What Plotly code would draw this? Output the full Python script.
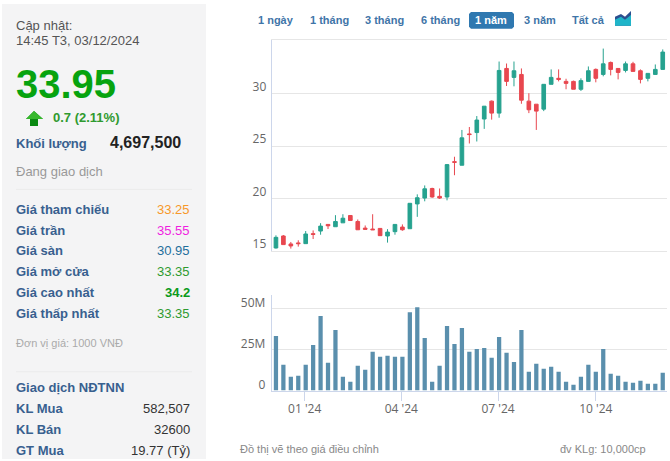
import pandas as pd
import plotly.graph_objects as go

W, H = 670, 461

# weekly bars, dated on the Tuesday of each week
dates = pd.date_range("2023-12-05", "2024-12-03", freq="7D")
opens = [15.31, 16.45, 15.69, 15.79, 15.72, 16.67, 16.92, 17.55, 17.33, 17.70, 18.40, 17.83, 17.20, 17.11,
         17.17, 16.45, 16.86, 17.30, 17.14, 19.50, 20.06, 20.97, 20.22, 20.16, 23.52, 23.18, 26.16, 26.29,
         27.58, 29.28, 28.14, 32.39, 31.54, 31.82, 29.28, 28.99, 28.52, 30.88, 31.45, 31.16, 31.16, 30.41,
         31.16, 32.30, 31.82, 32.96, 32.39, 32.20, 32.83, 32.17, 31.45, 31.82, 32.30]
highs = [16.51, 16.54, 15.88, 16.04, 16.92, 16.98, 17.67, 17.55, 18.43, 18.52, 18.43, 18.02, 17.45, 18.52,
         17.17, 17.10, 17.55, 17.55, 19.56, 20.41, 21.26, 21.04, 20.97, 23.30, 23.99, 26.54, 26.82, 27.86,
         28.80, 29.34, 33.05, 32.86, 33.05, 32.39, 30.03, 28.99, 30.88, 32.30, 32.30, 31.41, 31.23, 31.45,
         32.58, 32.39, 34.28, 33.05, 32.39, 33.05, 33.02, 32.30, 31.92, 32.77, 34.20]
lows = [15.25, 15.63, 15.25, 15.44, 15.72, 16.16, 16.57, 17.11, 17.33, 17.70, 17.89, 17.04, 17.08, 17.04,
        16.48, 15.82, 16.57, 16.95, 17.14, 18.27, 19.75, 20.09, 19.97, 19.84, 22.23, 23.18, 25.25, 25.44,
        26.64, 27.52, 27.70, 30.72, 30.69, 29.03, 28.14, 26.54, 28.33, 30.88, 31.16, 30.41, 30.41, 30.25,
        31.16, 31.07, 31.64, 31.73, 31.35, 32.01, 32.11, 30.97, 31.16, 31.82, 32.30]
closes = [16.32, 15.63, 15.50, 15.72, 16.64, 16.60, 17.39, 17.42, 17.83, 18.14, 17.92, 17.04, 17.08, 17.04,
          16.48, 16.82, 17.55, 17.04, 19.56, 20.09, 20.94, 20.16, 20.06, 23.24, 23.46, 25.79, 26.10, 27.48,
          28.80, 28.14, 32.20, 31.16, 32.17, 29.37, 28.46, 28.33, 30.88, 31.54, 31.35, 30.97, 30.41, 31.23,
          32.17, 31.45, 32.83, 32.30, 32.01, 32.83, 32.11, 31.35, 31.92, 32.30, 33.95]
volumes = [33.3, 15.7, 8.5, 9.0, 15.7, 27.8, 45.4, 16.9, 36.9, 8.5, 5.4, 15.1, 12.7, 23.6, 20.6, 21.2, 20.6, 20.6,
           47.8, 50.8, 32.0, 5.4, 15.1, 39.3, 28.4, 38.1, 23.6, 25.4, 26.0, 20.0, 32.7, 23.0, 17.5, 36.9, 11.5, 16.3,
           13.3, 14.5, 11.5, 5.4, 3.6, 8.5, 15.7, 11.5, 25.4, 10.3, 9.0, 5.4, 4.8, 6.0, 4.2, 4.2, 10.9]

price_ticks = [15, 20, 25, 30]
volume_ticks = [0, 25, 50]
volume_labels = ["0", "25M", "50M"]

price_labels = ["Giá tham chiếu", "Giá trần", "Giá sàn", "Giá mở cửa", "Giá cao nhất", "Giá thấp nhất"]
price_values = ["33.25", "35.55", "30.95", "33.35", "34.2", "33.35"]
price_colors = ["#f7982a", "#f01ee0", "#1f6f9c", "#2f9a2f", "#0b9a1b", "#2f9a2f"]
foreign_labels = ["KL Mua", "KL Bán", "GT Mua"]
foreign_values = ["582,507", "32600", "19.77 (Tỷ)"]
range_labels = ["1 ngày", "1 tháng", "3 tháng", "6 tháng", "1 năm", "3 năm", "Tất cả"]
range_centers = [276, 329, 384, 440, 491, 540, 588]

BLUE = "#38608f"
NAV = "#3f75a8"
GREEN = "#26a28f"
RED = "#e8474f"
FONT = "Liberation Sans, Arial, sans-serif"
TICK_FONT = "Open Sans, sans-serif"


def px_x(x):
    return x / W


def px_y(y):
    return 1 - y / H


def text(x, y, s, size=13, color="#444", anchor="left", bold=False):
    if bold:
        s = "<b>" + s + "</b>"
    return dict(xref="paper", yref="paper", x=px_x(x), y=px_y(y), text=s, showarrow=False,
                xanchor=anchor, yanchor="middle", borderpad=0, borderwidth=0,
                font=dict(family=FONT, size=size, color=color))


def path(points, fill):
    d = "M " + " L ".join(f"{px_x(x):.5f} {px_y(y):.5f}" for x, y in points) + " Z"
    return dict(type="path", xref="paper", yref="paper", path=d, fillcolor=fill, line_width=0, layer="below")


def rule(x0, x1, y, color="#ebebeb"):
    return dict(type="line", xref="paper", yref="paper", x0=px_x(x0), x1=px_x(x1), y0=px_y(y), y1=px_y(y),
                line=dict(color=color, width=1), layer="below")


notes = [
    text(16, 24, "Cập nhật:", 13, "#555"),
    text(16, 39, "14:45 T3, 03/12/2024", 13, "#555"),
    text(16, 83, "33.95", 40, "#07a30f", bold=True),
    text(53, 117, "0.7 (2.11%)", 13, "#2f9a2f", bold=True),
    text(16, 143, "Khối lượng", 13, BLUE, bold=True),
    text(181, 142, "4,697,500", 16, "#222", "right", True),
    text(16, 171, "Đang giao dịch", 13, "#999"),
    text(16, 344, "Đơn vị giá: 1000 VNĐ", 11, "#aaa"),
    text(16, 389, "Giao dịch NĐTNN", 13, BLUE, bold=True),
    text(240, 451, "Đồ thị vẽ theo giá điều chỉnh", 11, "#888"),
    text(646, 451, "đv KLg: 10,000cp", 11, "#888", "right"),
]
for i, (label, value, color) in enumerate(zip(price_labels, price_values, price_colors)):
    notes.append(text(16, 209 + i * 21, label, 13, BLUE, bold=True))
    notes.append(text(190, 209 + i * 21, value, 13, color, "right", value == "34.2"))
for i, (label, value) in enumerate(zip(foreign_labels, foreign_values)):
    notes.append(text(16, 410 + i * 21, label, 13, BLUE, bold=True))
    notes.append(text(190, 410 + i * 21, value, 13, "#333", "right"))
for label, center in zip(range_labels, range_centers):
    color = "#ffffff" if label == "1 năm" else NAV
    notes.append(text(center, 18, label, 11, color, "center", True))

shapes = [
    dict(type="rect", xref="paper", yref="paper", x0=px_x(2), x1=px_x(206), y0=0, y1=px_y(2),
         fillcolor="#f4f4f5", line_width=0, layer="below"),
    rule(16, 192, 189),
    rule(16, 192, 373),
    # selected range button
    path([(471, 10), (512, 10), (514, 12), (514, 25), (512, 27), (471, 27), (469, 25), (469, 12)], "#2f78b0"),
    # up arrow
    path([(34, 110), (43, 118), (38, 118), (38, 125), (30, 125), (30, 118), (26, 118)], "#0a8a12"),
    path([(34, 110), (43, 118), (26, 118)], "#37b82d"),
    # chart type icon
    path([(615, 15), (621, 12), (625, 15), (631, 9), (631, 24), (615, 24)], "#2c4f8f"),
    path([(615, 18), (621, 15), (625, 18), (631, 13), (631, 24), (615, 24)], "#1fb5c9"),
]

fig = go.Figure()
fig.add_trace(go.Candlestick(
    x=dates, open=opens, high=highs, low=lows, close=closes, xaxis="x", yaxis="y",
    increasing=dict(line=dict(color=GREEN, width=1), fillcolor=GREEN),
    decreasing=dict(line=dict(color=RED, width=1), fillcolor=RED),
    whiskerwidth=0, showlegend=False,
))
fig.add_trace(go.Bar(x=dates, y=volumes, xaxis="x2", yaxis="y2", marker=dict(color="#5a8fad", line_width=0),
                     width=4 * 86400000, showlegend=False))

x_range = ["2023-12-01", "2024-12-07"]
x_dom = [px_x(271.7), px_x(667)]

fig.update_layout(
    width=W, height=H, margin=dict(l=0, r=0, t=0, b=0), autosize=False,
    paper_bgcolor="white", plot_bgcolor="white", showlegend=False,
    shapes=shapes, annotations=notes,
    xaxis=dict(domain=x_dom, range=x_range, anchor="y", type="date", showgrid=False, showticklabels=False,
               ticks="", rangeslider=dict(visible=False), showline=True, linecolor="#e6e6e6", mirror=True),
    yaxis=dict(domain=[px_y(251.4), px_y(38.3)], range=[15, 35.1], anchor="x", tickvals=price_ticks,
               gridcolor="#e6e6e6", showline=True, linecolor="#ccd6eb", zeroline=False, ticks="",
               ticklabelstandoff=2, ticklabelshift=-7,
               tickfont=dict(family=TICK_FONT, size=12, color="#666")),
    xaxis2=dict(domain=x_dom, range=x_range, anchor="y2", type="date", showgrid=False, tick0="2024-01-01",
                dtick="M3", tickformat="%m '%y", ticks="outside", ticklen=9, tickcolor="#ccd6eb",
                showline=True, linecolor="#ccd6eb", ticklabelmode="instant", ticklabelstandoff=-2,
                tickfont=dict(family=TICK_FONT, size=12, color="#666")),
    yaxis2=dict(domain=[px_y(392), px_y(296)], range=[0, 58], anchor="x2", tickvals=volume_ticks,
                ticktext=volume_labels, gridcolor="#e6e6e6", showline=True, linecolor="#ccd6eb",
                zeroline=False, ticks="", ticklabelstandoff=3, ticklabelshift=-6,
                tickfont=dict(family=TICK_FONT, size=12, color="#666")),
)

fig.write_html("out.html", config=dict(displayModeBar=False), default_width=W, default_height=H,
               post_script="document.body.style.margin='0';document.body.style.overflow='hidden';")
